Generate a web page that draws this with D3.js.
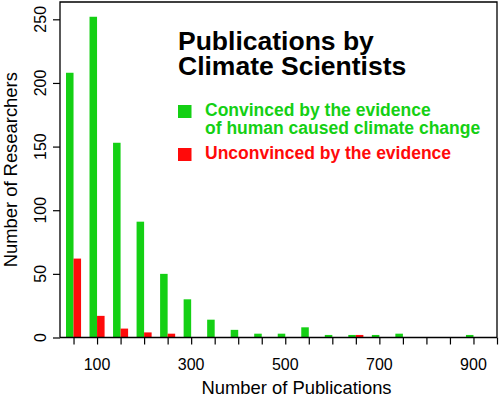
<!DOCTYPE html>
<html>
<head>
<meta charset="utf-8">
<script src="https://cdn.jsdelivr.net/npm/d3@7"></script>
<style>
  body { margin: 0; background: #fff; }
  text { font-family: "Liberation Sans", Arial, Helvetica, sans-serif; }
</style>
</head>
<body>
<div id="chart"></div>
<script>
// publication count bins (centre of each bin)
var bins = [50, 100, 150, 200, 250, 300, 350, 400, 450, 500, 550, 600, 650, 700, 750, 800, 850, 900];
var convinced = [208, 252, 153, 91, 50, 30, 14, 6, 3, 3, 8, 2, 2, 2, 3, 0, 0, 2];
var unconvinced = [62, 17, 7, 4, 3, 0, 0, 0, 0, 0, 0, 0, 2, 0, 0, 0, 0, 0];

var series = ["convinced", "unconvinced"];
var seriesColor = { convinced: "#14d014", unconvinced: "#ff0a0a" };
var legendLines = [
  ["Convinced by the evidence", "of human caused climate change"],
  ["Unconvinced by the evidence"]
];
var titleLines = ["Publications by", "Climate Scientists"];

var xTicks = d3.range(50, 951, 50);
var xLabels = [100, 300, 500, 700, 900];
var yTicks = [0, 50, 100, 150, 200, 250];

var w = 500, h = 398;
// plot box edges (note: "top" is reserved on window, so prefix them)
var boxL = 60, boxR = 497, boxT = 2, boxB = 337.5;

var svg = d3.select("#chart").append("svg")
  .attr("width", w)
  .attr("height", h);

var x = d3.scaleLinear().domain([0, 950]).range([50, 497]);
var y = d3.scaleLinear().domain([0, 263.6]).range([boxB, boxT]);
// offset of each series inside a bin, in data units
var inner = d3.scaleBand().domain(series).range([-16, 16]);

var rows = bins.map(function (b, i) {
  return { bin: b, convinced: convinced[i], unconvinced: unconvinced[i] };
});

// bars
var groups = svg.append("g").selectAll("g")
  .data(rows)
  .enter().append("g");

groups.selectAll("rect")
  .data(function (d) {
    return series
      .map(function (s) { return { bin: d.bin, key: s, value: d[s] }; })
      .filter(function (e) { return e.value > 0; });
  })
  .enter().append("rect")
  .attr("x", function (d) { return x(d.bin + inner(d.key)); })
  .attr("width", function (d) { return x(d.bin + inner(d.key) + inner.bandwidth()) - x(d.bin + inner(d.key)); })
  .attr("y", function (d) { return y(d.value); })
  .attr("height", function (d) { return y(0) - y(d.value); })
  .attr("fill", function (d) { return seriesColor[d.key]; });

// frame (left, top, right)
svg.append("path")
  .attr("d", "M" + boxL + "," + boxB + "V" + boxT + "H" + boxR + "V" + boxB)
  .attr("fill", "none")
  .attr("stroke", "#000")
  .attr("stroke-width", 1.3);

// x axis
var xAxis = svg.append("g")
  .attr("transform", "translate(0," + boxB + ")")
  .call(d3.axisBottom(x).tickValues(xTicks).tickSize(7).tickFormat(""));
xAxis.select(".domain").attr("d", "M" + boxL + ",0H" + boxR).attr("stroke-width", 1.3);
xAxis.selectAll(".tick line").attr("stroke-width", 1.2);

svg.append("g").selectAll("text")
  .data(xLabels)
  .enter().append("text")
  .attr("x", function (d) { return x(d); })
  .attr("y", 369.5)
  .attr("text-anchor", "middle")
  .style("font-size", "16px")
  .text(function (d) { return d; });

// y axis
var yAxis = svg.append("g")
  .attr("transform", "translate(" + boxL + ",0)")
  .call(d3.axisLeft(y).tickValues(yTicks).tickSize(7).tickFormat(""));
yAxis.select(".domain").remove();
yAxis.selectAll(".tick line").attr("stroke-width", 1.2);

svg.append("g").selectAll("text")
  .data(yTicks)
  .enter().append("text")
  .attr("transform", function (d) { return "translate(45.5," + y(d) + ") rotate(-90)"; })
  .attr("text-anchor", "middle")
  .style("font-size", "16px")
  .text(function (d) { return d; });

// axis titles
svg.append("text")
  .attr("x", 296.5)
  .attr("y", 393.5)
  .attr("text-anchor", "middle")
  .style("font-size", "18.4px")
  .text("Number of Publications");

svg.append("text")
  .attr("transform", "translate(16.5," + ((boxT + boxB) / 2) + ") rotate(-90)")
  .attr("text-anchor", "middle")
  .style("font-size", "18.4px")
  .text("Number of Researchers");

// title
svg.append("g").selectAll("text")
  .data(titleLines)
  .enter().append("text")
  .attr("x", 178)
  .attr("y", function (d, i) { return 49.5 + i * 25.8; })
  .style("font-size", "26.5px")
  .style("font-weight", "bold")
  .text(function (d) { return d; });

// legend
var legendY = [105, 148];
var legend = svg.append("g").selectAll("g")
  .data(series)
  .enter().append("g")
  .attr("transform", function (d, i) { return "translate(178," + legendY[i] + ")"; });

legend.append("rect")
  .attr("width", 13.5)
  .attr("height", 13)
  .attr("fill", function (d) { return seriesColor[d]; });

legend.each(function (d, i) {
  d3.select(this).selectAll("text")
    .data(legendLines[i])
    .enter().append("text")
    .attr("x", 27)
    .attr("y", function (t, j) { return 11 + j * 18.3; })
    .attr("fill", seriesColor[d])
    .style("font-size", "17.5px")
    .style("font-weight", "bold")
    .text(function (t) { return t; });
});
</script>
</body>
</html>
